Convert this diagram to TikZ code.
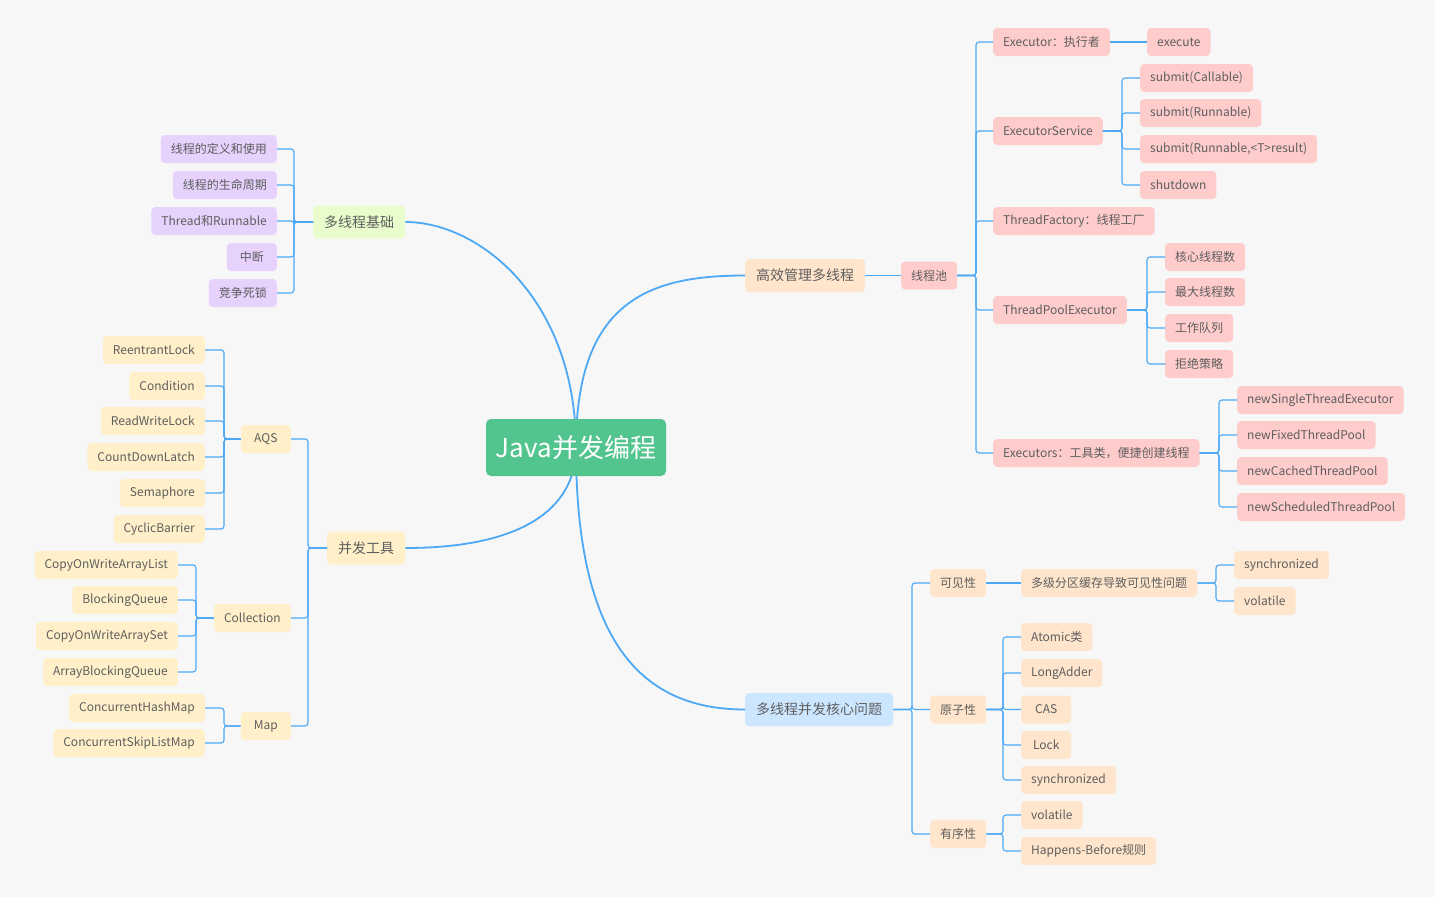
\documentclass[tikz,border=0pt]{standalone}
\usepackage{fontspec}
\setmainfont{Noto Sans CJK SC}
\definecolor{bg}{HTML}{F7F7F7}
\definecolor{ln}{HTML}{4DA8F5}
\definecolor{txt}{HTML}{5E5E5E}
\definecolor{cpurple}{HTML}{E6D2FC}
\definecolor{cgreen}{HTML}{E8FCCC}
\definecolor{cyellow}{HTML}{FFF0C9}
\definecolor{cpeach}{HTML}{FFE5CC}
\definecolor{cpink}{HTML}{FFCCCC}
\definecolor{cblue}{HTML}{CCE6FF}
\definecolor{croot}{HTML}{52C48D}
\tikzset{
  leaf/.style={rounded corners=4pt, text=txt, font=\fontsize{12}{14}\selectfont, minimum height=28pt, minimum width=50pt, inner xsep=10pt, inner ysep=0pt},
  lone/.style={rounded corners=4pt, text=txt, font=\fontsize{14}{16}\selectfont, minimum height=33pt, inner xsep=11pt, inner ysep=0pt},
  rootbox/.style={rounded corners=5pt, fill=croot, text=white, font=\fontsize{26}{30}\selectfont, minimum height=57pt, minimum width=180pt, inner sep=0pt},
  br/.style={draw=ln, line width=1.1pt, rounded corners=3pt},
  mainline/.style={draw=ln, line width=1.8pt},
  pu/.style={leaf, fill=cpurple},
  ye/.style={leaf, fill=cyellow},
  pe/.style={leaf, fill=cpeach},
  pk/.style={leaf, fill=cpink},
}
\newcommand\brR[3]{\foreach \c in {#3}{\draw[br] (#1.east) -- (#1.east -| #2) |- (\c.west);}}
\newcommand\brL[3]{\foreach \c in {#3}{\draw[br] (#1.west) -- (#1.west -| #2) |- (\c.east);}}
\begin{document}
\begin{tikzpicture}[x=1pt,y=-1pt]
\fill[bg] (0,0) rectangle (1435,897);
\useasboundingbox (0,0) rectangle (1435,897);
% bracket x positions
\coordinate (xA) at (294,0);
\coordinate (xB) at (308,0);
\coordinate (xC) at (224,0);
\coordinate (xD) at (196,0);
\coordinate (xE) at (976,0);
\coordinate (xF) at (1122,0);
\coordinate (xG) at (1147,0);
\coordinate (xH) at (1219,0);
\coordinate (xI) at (912,0);
\coordinate (xJ) at (1216,0);
\coordinate (xK) at (1003,0);

% ---------- nodes ----------
\node[lone, fill=cgreen, anchor=west] (jc) at (313,222) {多线程基础};
\node[pu, anchor=east] (p1) at (277,149) {线程的定义和使用};
\node[pu, anchor=east] (p2) at (277,185) {线程的生命周期};
\node[pu, anchor=east] (p3) at (277,221) {Thread和Runnable};
\node[pu, anchor=east] (p4) at (277,257) {中断};
\node[pu, anchor=east] (p5) at (277,293) {竞争死锁};

\node[lone, fill=cyellow, anchor=west] (tool) at (327,548) {并发工具};
\node[ye, anchor=east] (aqs) at (291,439) {AQS};
\node[ye, anchor=east] (col) at (291,618) {Collection};
\node[ye, anchor=east] (map) at (291,726) {Map};
\node[ye, anchor=east] (a1) at (205,350) {ReentrantLock};
\node[ye, anchor=east] (a2) at (205,386) {Condition};
\node[ye, anchor=east] (a3) at (205,421) {ReadWriteLock};
\node[ye, anchor=east] (a4) at (205,457) {CountDownLatch};
\node[ye, anchor=east] (a5) at (205,493) {Semaphore};
\node[ye, anchor=east] (a6) at (205,529) {CyclicBarrier};
\node[ye, anchor=east] (c1) at (178,565) {CopyOnWriteArrayList};
\node[ye, anchor=east] (c2) at (178,600) {BlockingQueue};
\node[ye, anchor=east] (c3) at (178,636) {CopyOnWriteArraySet};
\node[ye, anchor=east] (c4) at (178,672) {ArrayBlockingQueue};
\node[ye, anchor=east] (m1) at (205,708) {ConcurrentHashMap};
\node[ye, anchor=east] (m2) at (205,743) {ConcurrentSkipListMap};

\node[lone, fill=cpeach, anchor=west] (gx) at (745,275.5) {高效管理多线程};
\node[pk, anchor=west] (pool) at (901,275.5) {线程池};
\node[pk, anchor=west] (e1) at (993,42) {Executor：执行者};
\node[pk, anchor=west] (e1a) at (1147,42) {execute};
\node[pk, anchor=west] (e2) at (993,131) {ExecutorService};
\node[pk, anchor=west] (s1) at (1140,78) {submit(Callable)};
\node[pk, anchor=west] (s2) at (1140,113) {submit(Runnable)};
\node[pk, anchor=west] (s3) at (1140,149) {submit(Runnable,<T>result)};
\node[pk, anchor=west] (s4) at (1140,185) {shutdown};
\node[pk, anchor=west] (e3) at (993,221) {ThreadFactory：线程工厂};
\node[pk, anchor=west] (e4) at (993,310) {ThreadPoolExecutor};
\node[pk, anchor=west] (t1) at (1165,257) {核心线程数};
\node[pk, anchor=west] (t2) at (1165,292) {最大线程数};
\node[pk, anchor=west] (t3) at (1165,328) {工作队列};
\node[pk, anchor=west] (t4) at (1165,364) {拒绝策略};
\node[pk, anchor=west] (e5) at (993,453) {Executors：工具类，便捷创建线程};
\node[pk, anchor=west] (n1) at (1237,400) {newSingleThreadExecutor};
\node[pk, anchor=west] (n2) at (1237,435) {newFixedThreadPool};
\node[pk, anchor=west] (n3) at (1237,471) {newCachedThreadPool};
\node[pk, anchor=west] (n4) at (1237,507) {newScheduledThreadPool};

\node[lone, fill=cblue, anchor=west] (core) at (745,709.5) {多线程并发核心问题};
\node[pe, anchor=west] (vis) at (930,583) {可见性};
\node[pe, anchor=west] (vis1) at (1021,583) {多级分区缓存导致可见性问题};
\node[pe, anchor=west] (v1) at (1234,565) {synchronized};
\node[pe, anchor=west] (v2) at (1234,601) {volatile};
\node[pe, anchor=west] (ato) at (930,709.5) {原子性};
\node[pe, anchor=west] (o1) at (1021,637) {Atomic类};
\node[pe, anchor=west] (o2) at (1021,673) {LongAdder};
\node[pe, anchor=west] (o3) at (1021,709.5) {CAS};
\node[pe, anchor=west] (o4) at (1021,745) {Lock};
\node[pe, anchor=west] (o5) at (1021,780) {synchronized};
\node[pe, anchor=west] (ord) at (930,834) {有序性};
\node[pe, anchor=west] (r1) at (1021,815) {volatile};
\node[pe, anchor=west] (r2) at (1021,851) {Happens-Before规则};

% ---------- brackets ----------
\brL{jc}{xA}{p1,p2,p3,p4,p5}
\brL{tool}{xB}{aqs,col,map}
\brL{aqs}{xC}{a1,a2,a3,a4,a5,a6}
\brL{col}{xD}{c1,c2,c3,c4}
\brL{map}{xC}{m1,m2}
\draw[br] (gx.east) -- (pool.west);
\brR{pool}{xE}{e1,e2,e3,e4,e5}
\draw[br] (e1.east) -- (e1a.west);
\brR{e2}{xF}{s1,s2,s3,s4}
\brR{e4}{xG}{t1,t2,t3,t4}
\brR{e5}{xH}{n1,n2,n3,n4}
\brR{core}{xI}{vis,ato,ord}
\draw[br] (vis.east) -- (vis1.west);
\brR{vis1}{xJ}{v1,v2}
\brR{ato}{xK}{o1,o2,o3,o4,o5}
\brR{ord}{xK}{r1,r2}

% ---------- main curves ----------
\coordinate (rc) at (576,447.5);
\draw[mainline] (rc) .. controls (576,300) and (480,222) .. (jc.east);
\draw[mainline] (rc) .. controls (576,300) and (650,275.5) .. (gx.west);
\draw[mainline] (rc) .. controls (576,510) and (520,548) .. (tool.east);
\draw[mainline] (rc) .. controls (576,640) and (640,709.5) .. (core.west);
\node[rootbox] (r) at (rc) {Java并发编程};
\end{tikzpicture}
\end{document}
